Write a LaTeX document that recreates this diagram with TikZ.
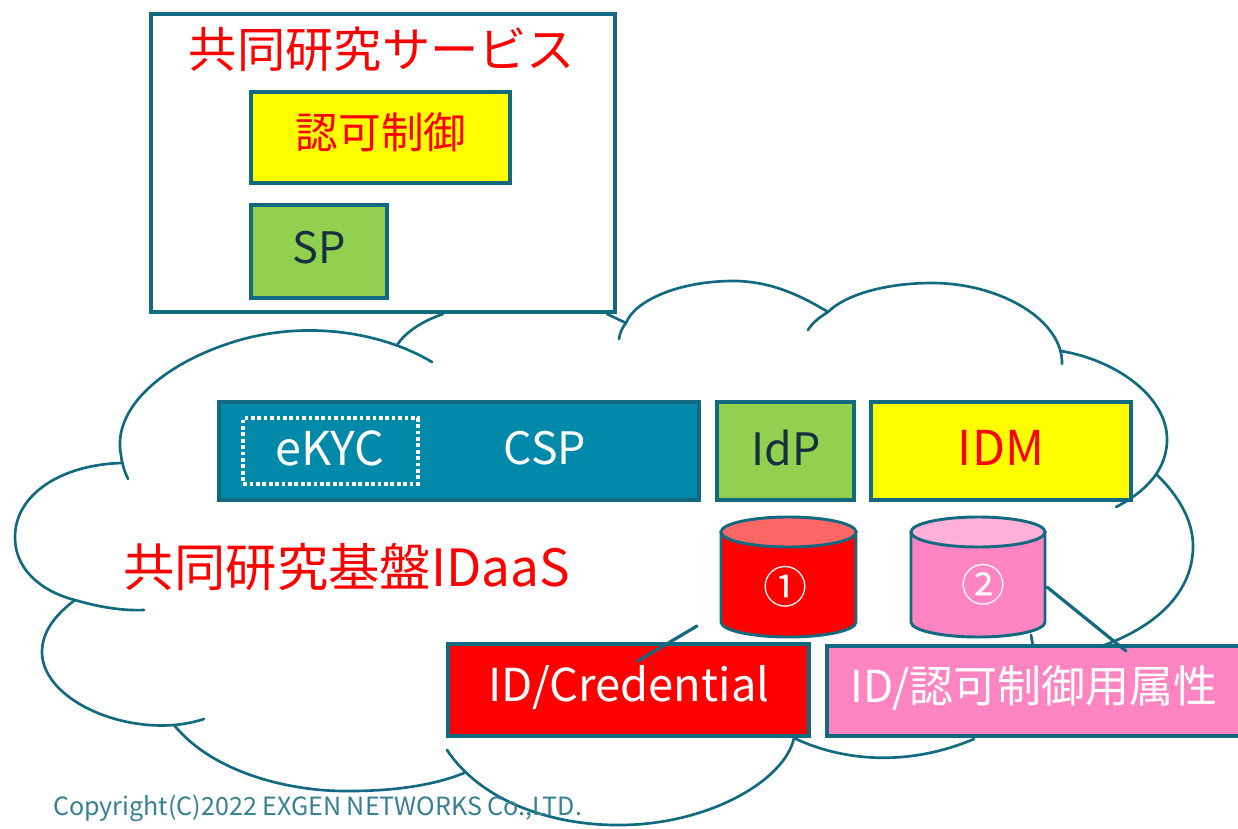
\documentclass[tikz,border=0pt]{standalone}
\usepackage{fontspec}
\setmainfont{Noto Sans CJK JP}
\usetikzlibrary{calc}
\definecolor{edge}{HTML}{126A80}
\definecolor{teal}{HTML}{0089A8}
\definecolor{leaf}{HTML}{92D050}
\definecolor{pinkf}{HTML}{FF85C2}
\definecolor{pinkt}{HTML}{FFB0D8}
\definecolor{redt}{HTML}{FF6666}
\definecolor{pureyellow}{HTML}{FFFF00}
\definecolor{purered}{HTML}{FF0000}
\definecolor{darktxt}{HTML}{17303F}
\tikzset{
 x=0.75pt,y=-0.75pt,
 box/.style={draw=edge,line width=2.7pt,anchor=north west,inner sep=0pt,outer sep=0pt,align=center},
 lobe/.style={draw=edge,line width=2pt,line cap=round},
 cyl/.style={draw=edge,line width=2.2pt},
}
\newcommand{\fs}[1]{\fontsize{#1}{#1}\selectfont}
\newcommand{\bx}[6]{\node[box,fill=#6,minimum width=(#3-#1)*0.75pt,minimum height=(#4-#2)*0.75pt] (#5) at (#1,#2) {};}
\newcommand{\cylinder}[4]{%
 \path[cyl,fill=#3] (#1,532) -- (#1,622) arc[start angle=180,end angle=0,x radius=#2/2,y radius=15] -- (#1+#2,532) -- cycle;
 \path[cyl,fill=#4] (#1+#2/2,532) ellipse[x radius=#2/2,y radius=15];
}
\begin{document}
\begin{tikzpicture}
\useasboundingbox (0,0) rectangle (1238,828);
\fill[white] (0,0) rectangle (1238,828);
% cloud lobes
\coordinate (c1) at (432,362);
\coordinate (c2) at (128,479);
\coordinate (c3) at (121,463);
\coordinate (c4) at (144,610);
\coordinate (c5) at (75,600);
\coordinate (c6) at (204,719);
\coordinate (c7) at (174,725);
\coordinate (c8) at (464,773);
\coordinate (c9) at (447,750);
\coordinate (c10) at (794,738);
\coordinate (c11) at (974,739);
\coordinate (c12) at (1102,646);
\coordinate (c13) at (1156,474);
\coordinate (c14) at (1116,507);
\coordinate (c15) at (1061,351);
\coordinate (c16) at (1062,364);
\coordinate (c17) at (828,312);
\coordinate (c18) at (808,330);
\coordinate (c19) at (619,339);
\coordinate (c20) at (443,314);
\coordinate (c21) at (397,345);
\coordinate (c22) at (607,314);
\coordinate (c23) at (626,323);
\coordinate (c24) at (1031,635);
\coordinate (c25) at (1033,646);
\coordinate (c26) at (1047,587);
\coordinate (c27) at (1126,651);
\coordinate (c28) at (697,626);
\coordinate (c29) at (638,661);
\draw[lobe] (c1) .. controls (378,330) and (300,320) .. (230,343) .. controls (160,366) and (112,410) .. (121,455) .. controls (122,464) and (124,470) .. (c2);
\draw[lobe] (c3) .. controls (60,465) and (15,495) .. (15,537) .. controls (15,575) and (50,594) .. (c5) .. controls (95,606) and (120,611) .. (c4);
\draw[lobe] (c5) .. controls (55,615) and (42,632) .. (42,652) .. controls (42,695) and (110,730) .. (c7) .. controls (185,724) and (195,722) .. (c6);
\draw[lobe] (c7) .. controls (215,775) and (295,792) .. (350,791) .. controls (395,791) and (435,785) .. (c8);
\draw[lobe] (c9) .. controls (480,800) and (550,826) .. (622,825) .. controls (710,824) and (785,780) .. (c10);
\draw[lobe] (c10) .. controls (840,760) and (905,768) .. (c11);
\draw[lobe] (c12) .. controls (1160,625) and (1193,590) .. (1193,546) .. controls (1193,520) and (1178,495) .. (c13);
\draw[lobe] (c14) .. controls (1145,492) and (1168,470) .. (1167,437) .. controls (1165,395) and (1115,360) .. (c15);
\draw[lobe] (c16) .. controls (1063,320) and (1000,283) .. (932,283) .. controls (885,283) and (845,295) .. (c17) .. controls (820,317) and (813,322) .. (c18);
\draw[lobe] (c17) .. controls (800,295) and (770,281) .. (733,281) .. controls (680,281) and (635,300) .. (c23) .. controls (622,328) and (620,332) .. (c19);
\draw[lobe] (c20) .. controls (420,322) and (405,333) .. (c21);
\draw[lobe] (c22) -- (c23);
\draw[lobe] (c24) -- (c25);
% top box
\bx{151}{14}{615}{312}{svc}{white}
\node[text=purered,font=\fs{36.2}] (svct) at (382,49) {共同研究サービス};
\bx{251}{92}{510}{183}{authz}{pureyellow}
\node[text=purered,font=\fs{32}] (authzt) at (381,132) {認可制御};
\bx{251}{205}{387}{298}{sp}{leaf}
\node[text=darktxt,font=\fs{32.5}] (spt) at (319,248) {SP};
% middle row
\bx{219}{402}{699}{500}{csp}{teal}
\node[draw=white,line width=2.8pt,dotted,minimum width=131pt,minimum height=49pt,inner sep=0pt] (ekyc) at (330.5,451) {};
\node[text=white,font=\fs{35}] (ekyct) at (330,448) {eKYC};
\node[text=white,font=\fs{33.5}] (cspt) at (545,448) {CSP};
\bx{717}{402}{854}{500}{idp}{leaf}
\node[text=darktxt,font=\fs{33.5}] (idpt) at (786,448) {IdP};
\bx{871}{402}{1131}{500}{idm}{pureyellow}
\node[text=purered,font=\fs{36}] (idmt) at (1001,448) {IDM};
% cylinders
\cylinder{721}{135}{purered}{redt}
\cylinder{911}{134}{pinkf}{pinkt}
\node[text=white,font=\fs{33}] (n1) at (785,587) {①};
\node[text=white,font=\fs{33}] (n2) at (983,585) {②};
% lower boxes
\bx{448}{644}{809}{736}{cred}{purered}
\node[text=white,font=\fs{34}] (credt) at (629,688) {ID/Credential};
\bx{827}{646}{1242}{736}{attr}{pinkf}
\node[text=white,font=\fs{33}] (attrt) at (1034,688) {ID/認可制御用属性};
\draw[lobe,line width=2.4pt] (c26) -- (c27);
\draw[lobe,line width=2.4pt] (c28) -- (c29);
\node[text=purered,font=\fs{38.5}] (title) at (346.5,567) {共同研究基盤IDaaS};
\node[text=edge!85!white,font=\fs{18.8},anchor=west,inner sep=0pt] (copy) at (53,808) {Copyright(C)2022 EXGEN NETWORKS Co.,LTD.};
\end{tikzpicture}
\end{document}
